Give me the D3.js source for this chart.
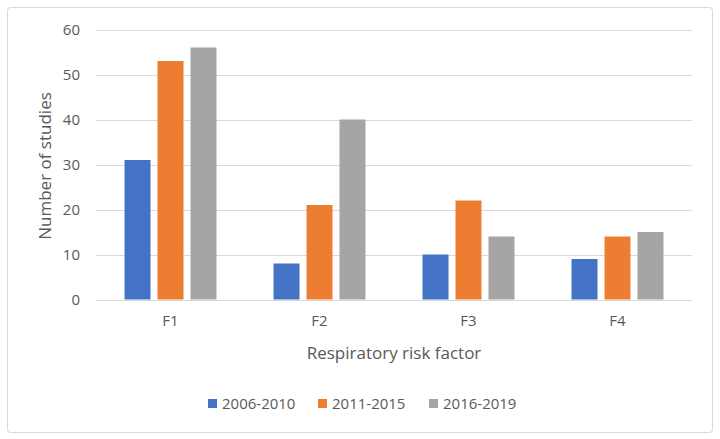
<!DOCTYPE html>
<html><head><meta charset="utf-8">
<script src="https://cdn.jsdelivr.net/npm/d3@7"></script>
<style>body{margin:0;background:#fff;} text{font-family:"Open Sans","Liberation Sans",sans-serif;fill:#595959;}</style>
</head><body><svg id="c" width="720" height="439"></svg>
<script>
const categories = ["F1","F2","F3","F4"];
const seriesNames = ["2006-2010","2011-2015","2016-2019"];
const s2006 = [31, 8, 10, 9];
const s2011 = [53, 21, 22, 14];
const s2016 = [56, 40, 14, 15];
const yTicks = [0,10,20,30,40,50,60];
const colors = ["#4472c4","#ed7d31","#a5a5a5"];
const seriesValues = [s2006, s2011, s2016];

const svg = d3.select("#c");
svg.append("rect").attr("x",7.5).attr("y",7.5).attr("width",705).attr("height",425)
  .attr("fill","#fff").attr("stroke","#d9d9d9").attr("stroke-width",1).attr("rx",3);

const L=96,R=692,T=29.5,B=299.5;
const y = d3.scaleLinear().domain([0,60]).range([B,T]);
const x0 = d3.scaleBand().domain(categories).range([L,R]).paddingInner(0.336).paddingOuter(0.168);
const x1 = d3.scaleBand().domain(seriesNames).range([0,x0.bandwidth()]).paddingInner(0.212).paddingOuter(0.106);

// gridlines
svg.append("g").selectAll("line").data(yTicks).join("line")
  .attr("x1",L).attr("x2",R).attr("y1",d=>Math.round(y(d))+0.5).attr("y2",d=>Math.round(y(d))+0.5)
  .attr("stroke","#d9d9d9").attr("stroke-width",1);

// y axis labels
const yAxis = d3.axisLeft(y).tickValues(yTicks).tickSize(0).tickPadding(0);
const gy = svg.append("g").attr("transform",`translate(80,0)`).call(yAxis);
gy.select(".domain").remove();
gy.selectAll("text").attr("font-size",15).attr("fill","#595959").style("font-family",'"Open Sans","Liberation Sans",sans-serif');

// bars
const groups = svg.append("g").selectAll("g").data(categories).join("g")
  .attr("transform",d=>`translate(${x0(d)},0)`);
groups.selectAll("rect").data((d,i)=>seriesNames.map((s,j)=>({s,v:seriesValues[j][i],j}))).join("rect")
  .attr("x",d=>x1(d.s)).attr("width",x1.bandwidth())
  .attr("y",d=>y(d.v)).attr("height",d=>y(0)-y(d.v))
  .attr("fill",d=>colors[d.j]);

// x axis labels
const xAxis = d3.axisBottom(x0).tickSize(0).tickPadding(0);
const gx = svg.append("g").attr("transform",`translate(0,${B+16})`).call(xAxis);
gx.select(".domain").remove();
gx.selectAll("text").attr("font-size",15).attr("fill","#595959").style("font-family",'"Open Sans","Liberation Sans",sans-serif');

// axis titles
svg.append("text").attr("x",(L+R)/2).attr("y",359).attr("text-anchor","middle").attr("font-size",17).text("Respiratory risk factor");
svg.append("text").attr("transform","translate(51,166) rotate(-90)").attr("text-anchor","middle").attr("font-size",17).text("Number of studies");

// legend
const legX = [208, 318, 429];
const leg = svg.append("g").selectAll("g").data(seriesNames).join("g")
  .attr("transform",(d,i)=>`translate(${legX[i]},399)`);
leg.append("rect").attr("width",9).attr("height",9).attr("fill",(d,i)=>colors[i]);
leg.append("text").attr("x",14).attr("y",10).attr("font-size",15).text(d=>d);
</script></body></html>
